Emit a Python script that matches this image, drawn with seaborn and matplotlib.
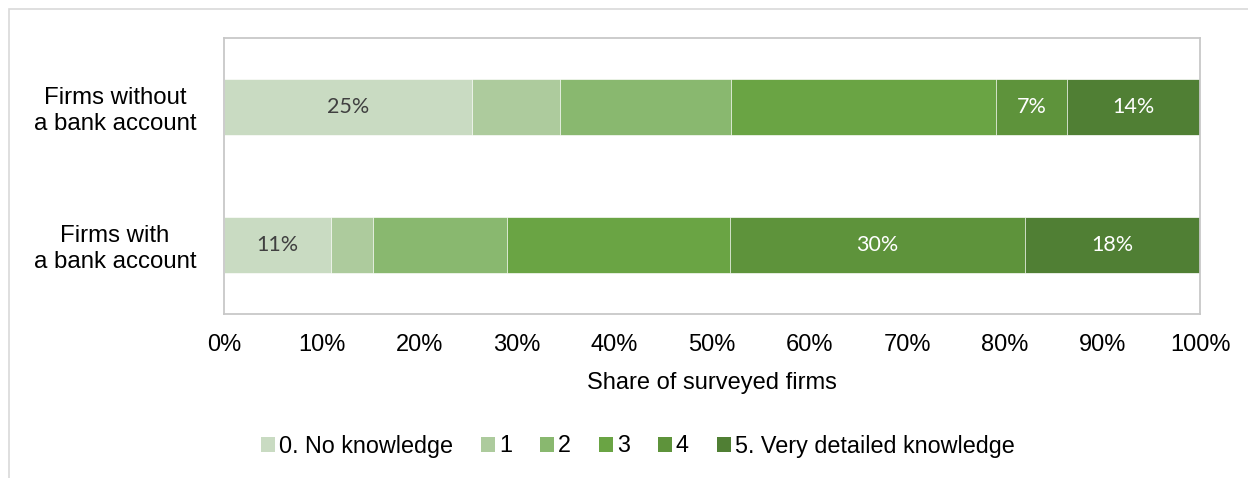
import numpy as np
import pandas as pd
import matplotlib
matplotlib.use("Agg")
import matplotlib.pyplot as plt
import seaborn as sns
from matplotlib.patches import Rectangle, Patch

# ---- data ----
groups = ["Firms without\na bank account", "Firms with\na bank account"]
levels = ["0. No knowledge", "1", "2", "3", "4", "5. Very detailed knowledge"]
without_account = [25.4, 9.0, 17.5, 27.2, 7.3, 13.6]
with_account = [11.0, 4.3, 13.7, 22.8, 30.3, 17.9]
labeled_levels = ["0. No knowledge", "4", "5. Very detailed knowledge"]
colors = ["#C9DBC2", "#ADCB9D", "#89B86F", "#6AA444", "#5E933B", "#507F34"]
label_colors = ["#404040", "#404040", "#404040", "white", "white", "white"]
xticks = [0, 10, 20, 30, 40, 50, 60, 70, 80, 90, 100]
xticklabels = [f"{t}%" for t in xticks]

sns.set_theme(style="white")
plt.rcParams["font.family"] = ["Liberation Sans", "DejaVu Sans"]
plt.rcParams["text.color"] = "black"

df = pd.DataFrame({"group": np.repeat(groups, len(levels)),
                   "level": levels * len(groups),
                   "value": without_account + with_account})
df["cum"] = df.groupby("group", sort=False)["value"].cumsum()
df["start"] = df["cum"] - df["value"]

W, H = 1248, 478
fig = plt.figure(figsize=(W / 100, H / 100), dpi=100)
ax = fig.add_axes([224 / W, 1 - 314 / H, 976 / W, 276 / H])

# stacked bars: draw cumulative totals from the last level down
for i in range(len(levels) - 1, -1, -1):
    sub = df[df["level"] == levels[i]]
    sns.barplot(data=sub, x="cum", y="group", order=groups, orient="h",
                color=colors[i], saturation=1, width=0.4,
                edgecolor="white", linewidth=0.5, ax=ax)

# data labels
for _, r in df.iterrows():
    if r["level"] in labeled_levels:
        li = levels.index(r["level"])
        yi = groups.index(r["group"])
        ax.text(r["start"] + r["value"] / 2, yi, f"{round(r['value']):.0f}%",
                ha="center", va="center", fontsize=15.5, family="Lato",
                color=label_colors[li])

ax.set_xlim(0, 100)
ax.set_ylim(1.5, -0.5)
ax.set_xticks(xticks)
ax.set_xticklabels(xticklabels, fontsize=17, color="black")
ax.set_yticks(range(len(groups)))
ax.set_yticklabels(groups, fontsize=17.3, color="black", multialignment="center")
ax.tick_params(axis="x", length=0, pad=14.5)
ax.tick_params(axis="y", length=0, pad=20)
ax.set_xlabel("Share of surveyed firms", fontsize=17, color="black", labelpad=11.5)
ax.set_ylabel("")
for s in ax.spines.values():
    s.set_visible(True)
    s.set_color("#c8c8c8")
    s.set_linewidth(1.3)

# outer border
fig.add_artist(Rectangle((9 / W, -0.1), 1.2, 1.1 - 9 / H, transform=fig.transFigure,
                         fill=False, edgecolor="#d9d9d9", linewidth=1.2))

handles = [Patch(facecolor=c, edgecolor="none") for c in colors]
leg = fig.legend(handles, levels, loc="center", bbox_to_anchor=(638 / W, 1 - 446 / H),
                 ncol=6, frameon=False, fontsize=16.8, handlelength=0.6, handleheight=0.6,
                 handletextpad=0.17, columnspacing=1.2)
for t in leg.get_texts():
    t.set_color("black")

fig.savefig("out.png", dpi=100)
